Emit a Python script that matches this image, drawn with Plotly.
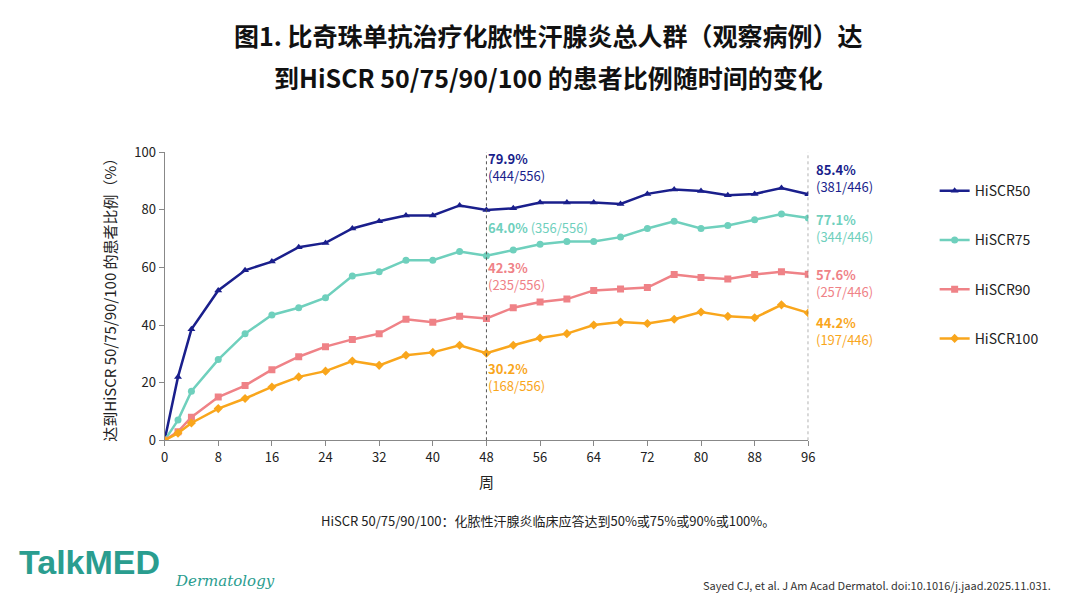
import plotly.graph_objects as go

weeks = [0, 2, 4, 8, 12, 16, 20, 24, 28, 32, 36, 40, 44, 48, 52, 56, 60, 64, 68, 72, 76, 80, 84, 88, 92, 96]
hiscr50 = [0, 22, 38.5, 52, 59, 62, 67, 68.5, 73.5, 76, 78, 78, 81.5, 79.9, 80.5, 82.5, 82.5, 82.5, 82, 85.5, 87, 86.5, 85, 85.5, 87.5, 85.4]
hiscr75 = [0, 7, 17, 28, 37, 43.5, 46, 49.5, 57, 58.5, 62.5, 62.5, 65.5, 64.0, 66, 68, 69, 69, 70.5, 73.5, 76, 73.5, 74.5, 76.5, 78.5, 77.1]
hiscr90 = [0, 3, 8, 15, 19, 24.5, 29, 32.5, 35, 37, 42, 41, 43, 42.3, 46, 48, 49, 52, 52.5, 53, 57.5, 56.5, 56, 57.5, 58.5, 57.6]
hiscr100 = [0, 2.5, 6, 11, 14.5, 18.5, 22, 24, 27.5, 26, 29.5, 30.5, 33, 30.2, 33, 35.5, 37, 40, 41, 40.5, 42, 44.5, 43, 42.5, 47, 44.2]
x_ticks = list(range(0, 97, 8))

series = [
    ("HiSCR50", hiscr50, "#1a1f8c", "triangle-up"),
    ("HiSCR75", hiscr75, "#6fd0bd", "circle"),
    ("HiSCR90", hiscr90, "#ef8287", "square"),
    ("HiSCR100", hiscr100, "#f9a61c", "diamond"),
]
labels48 = [("79.9%", "(444/556)"), ("64.0%", "(356/556)"),
            ("42.3%", "(235/556)"), ("30.2%", "(168/556)")]
labels96 = [("85.4%", "(381/446)"), ("77.1%", "(344/446)"),
            ("57.6%", "(257/446)"), ("44.2%", "(197/446)")]

font = "Noto Sans CJK SC, Arial"
fig = go.Figure()
for name, vals, color, sym in series:
    fig.add_trace(go.Scatter(x=weeks, y=vals, name=name, mode="lines+markers",
                             legendgroup=name,
                             line=dict(color=color, width=2.5),
                             marker=dict(symbol=sym, size=7, color=color)))

for xv in [48, 96]:
    fig.add_shape(type="line", x0=xv, x1=xv, y0=0, y1=100, xref="x", yref="y",
                  line=dict(color="#555", width=1, dash="dot"))

ys48 = [95, 74, 57, 22]
for (pct, cnt), (name, _, color, _), yv in zip(labels48, series, ys48):
    if name == "HiSCR75":
        txt = f"<b>{pct}</b> {cnt}"
    else:
        txt = f"<b>{pct}</b><br>{cnt}"
    fig.add_annotation(x=48, y=yv, text=txt, showarrow=False, xanchor="left",
                       xshift=0, align="left", font=dict(color=color, size=13, family=font))
ys96 = [91, 73.5, 54.5, 38]
for (pct, cnt), (name, _, color, _), yv in zip(labels96, series, ys96):
    fig.add_annotation(x=96, y=yv, text=f"<b>{pct}</b><br>{cnt}", showarrow=False,
                       xanchor="left", xshift=6, align="left",
                       font=dict(color=color, size=13, family=font))

fig.add_annotation(xref="paper", yref="paper", x=0.5, y=0.988, yanchor="top",
                   text="<b>图1. 比奇珠单抗治疗化脓性汗腺炎总人群（观察病例）达</b>",
                   showarrow=False, font=dict(size=25, color="#111", family=font))
fig.add_annotation(xref="paper", yref="paper", x=0.5, y=0.92, yanchor="top",
                   text="<b>到HiSCR 50/75/90/100 的患者比例随时间的变化</b>",
                   showarrow=False, font=dict(size=25, color="#111", family=font))
fig.add_annotation(xref="paper", yref="paper", x=0.5, y=0.138,
                   text="HiSCR 50/75/90/100：化脓性汗腺炎临床应答达到50%或75%或90%或100%。",
                   showarrow=False, font=dict(size=13, color="#222", family=font))
fig.add_annotation(xref="paper", yref="paper", x=0.008, y=0.055, xanchor="left",
                   text="<b>TalkMED</b>", showarrow=False,
                   font=dict(size=34, color="#2a9d8f", family="Arial"))
fig.add_annotation(xref="paper", yref="paper", x=0.153, y=0.04, xanchor="left",
                   text="<i>Dermatology</i>", showarrow=False,
                   font=dict(size=15, color="#2a9d8f", family="DejaVu Serif"))
fig.add_annotation(xref="paper", yref="paper", x=0.968, y=0.035, xanchor="right",
                   text="Sayed CJ, et al. J Am Acad Dermatol. doi:10.1016/j.jaad.2025.11.031.",
                   showarrow=False, font=dict(size=11, color="#333", family=font))

fig.update_layout(
    width=1080, height=608, margin=dict(l=0, r=0, t=0, b=0, autoexpand=False),
    paper_bgcolor="white", plot_bgcolor="white",
    font=dict(family=font, color="#222"),
    legend=dict(x=0.858, y=0.725, yanchor="top", xanchor="left", tracegroupgap=28,
                font=dict(size=14), itemwidth=30, traceorder="grouped"),
    xaxis=dict(domain=[0.145, 0.741], range=[0, 96], tickvals=x_ticks, automargin=False,
               showline=True, linecolor="#888", ticks="outside", tickcolor="#888",
               ticklen=5, showgrid=False, zeroline=False, tickfont=dict(size=13),
               title=dict(text="周", font=dict(size=15), standoff=12)),
    yaxis=dict(domain=[0.289, 0.763], range=[0, 100], dtick=20, automargin=False,
               showline=True, linecolor="#888", ticks="outside", tickcolor="#888",
               ticklen=5, showgrid=False, zeroline=False, tickfont=dict(size=13),
               title=dict(text="达到HiSCR 50/75/90/100 的患者比例（%）", font=dict(size=15), standoff=14)),
)
fig.write_html("out.html")
